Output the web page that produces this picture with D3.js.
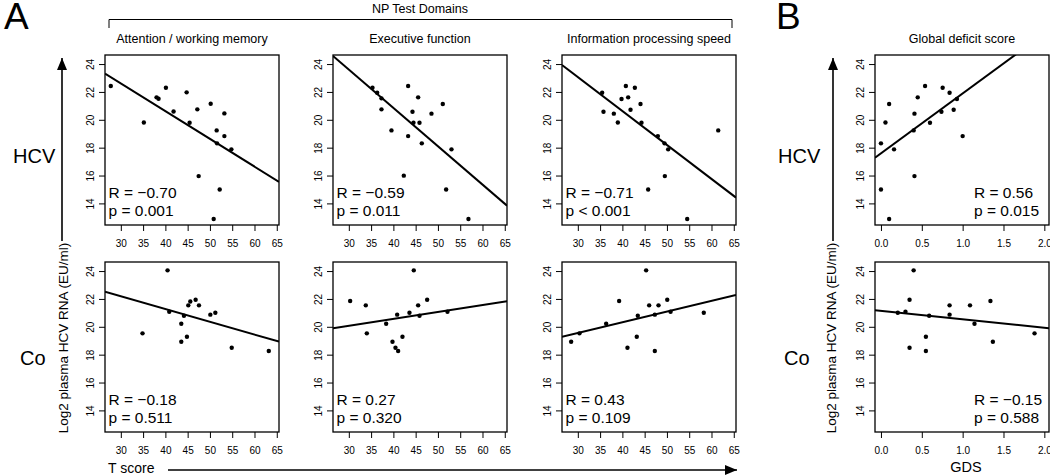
<!DOCTYPE html>
<html><head><meta charset="utf-8">
<script src="https://cdn.jsdelivr.net/npm/d3@7"></script>
<style>body{margin:0;background:#fff} text{font-family:"Liberation Sans",Arial,sans-serif;fill:#000}</style>
</head><body><svg id="chart" width="1050" height="475"></svg>
<script>
const rowNames = ["HCV", "Co"];
const domainTitles = ["Attention / working memory", "Executive function", "Information processing speed", "Global deficit score"];
const groupTitle = "NP Test Domains";
const yLabel = "Log2 plasma HCV RNA (EU/ml)";
const tTicks = [30, 35, 40, 45, 50, 55, 60, 65];
const gdsTicks = [0, 0.5, 1, 1.5, 2];
const yTicks = [14, 16, 18, 20, 22, 24];

// HCV group
const hcvAttnX = [27.75,35.17,38.02,38.47,40.12,41.84,44.77,45.44,47.17,47.47,50.17,50.84,51.51,51.59,52.19,53.24,53.24,54.81];
const hcvAttnY = [22.42,19.81,21.61,21.51,22.30,20.60,21.97,19.79,20.75,15.96,21.15,12.88,19.24,18.31,15.00,20.46,18.83,17.88];
const hcvExecX = [35.31,36.36,37.33,37.33,39.57,42.34,43.31,43.31,44.29,44.51,45.56,45.86,46.38,48.55,51.09,51.84,53.04,56.85];
const hcvExecY = [22.30,21.94,21.54,20.75,19.24,15.99,22.42,18.83,20.58,19.79,21.61,19.79,18.31,20.44,21.13,15.00,17.88,12.88];
const hcvInfoX = [35.46,35.76,38.08,38.98,39.81,40.78,41.30,41.83,42.80,44.07,44.29,45.79,47.96,49.46,49.53,50.28,54.55,61.51];
const hcvInfoY = [21.94,20.58,20.44,19.81,21.49,22.42,21.61,20.72,22.30,21.13,19.79,15.00,18.83,18.31,15.96,17.88,12.88,19.24];
const hcvGdsX = [0.00,0.00,0.055,0.10,0.10,0.16,0.41,0.41,0.40,0.45,0.54,0.60,0.74,0.755,0.84,0.89,0.93,1.00];
const hcvGdsY = [18.31,15.00,19.81,21.13,12.88,17.88,20.44,15.96,19.24,21.61,22.42,19.79,20.58,22.30,21.94,20.72,21.49,18.83];

// Control group
const coAttnX = [34.87,40.49,40.87,43.57,43.57,44.17,44.84,45.14,45.59,46.79,47.54,50.09,51.21,54.89,63.21];
const coAttnY = [19.53,24.05,21.08,20.22,18.93,20.79,19.29,21.54,21.82,21.94,21.54,20.87,21.01,18.50,18.26];
const coExecX = [30.30,33.81,34.04,38.38,39.80,40.47,40.85,41.07,42.04,43.61,44.58,45.56,45.86,47.58,52.14];
const coExecY = [21.85,21.54,19.53,20.22,18.93,18.50,20.87,18.26,19.29,21.01,24.05,21.54,20.79,21.94,21.08];
const coInfoX = [28.50,30.37,36.36,39.27,41.14,43.23,43.46,45.33,46.01,47.28,47.28,48.11,50.07,50.82,58.27];
const coInfoY = [18.93,19.53,20.22,21.85,18.50,19.29,20.79,24.05,21.54,20.87,18.26,21.54,21.94,21.08,21.01];
const coGdsX = [0.206,0.30,0.35,0.35,0.40,0.55,0.55,0.59,0.84,0.84,1.09,1.145,1.34,1.37,1.88];
const coGdsY = [21.01,21.08,21.94,18.50,24.05,19.29,18.26,20.79,21.54,20.87,21.54,20.22,21.85,18.93,19.53];

// regression fits (intercept, slope) per row / column
const fitIntercepts = [[28.58, 31.85, 30.38, 17.59], [24.94, 18.58, 17.25, 21.14]];
const fitSlopes = [[-0.199, -0.275, -0.2437, 4.30], [-0.0917, 0.0496, 0.0769, -0.605]];
const statR = [["\u22120.70", "\u22120.59", "\u22120.71", "0.56"], ["\u22120.18", "0.27", "0.43", "\u22120.15"]];
const statP = [["= 0.001", "= 0.011", "< 0.001", "= 0.015"], ["= 0.511", "= 0.320", "= 0.109", "= 0.588"]];

const xs = [[hcvAttnX, hcvExecX, hcvInfoX, hcvGdsX], [coAttnX, coExecX, coInfoX, coGdsX]];
const ys = [[hcvAttnY, hcvExecY, hcvInfoY, hcvGdsY], [coAttnY, coExecY, coInfoY, coGdsY]];

const svg = d3.select("#chart");
const colX = [105, 333, 562, 875];
const rowY = [55, 262];
const W = 174, H = 170;
const tDomain = [26.45, 65.5];
const gDomain = [-0.073, 2.057];
const yDomain = [12.45, 24.65];

for (let r = 0; r < 2; r++) {
  for (let c = 0; c < 4; c++) {
    const g = svg.append("g").attr("transform", `translate(${colX[c]},${rowY[r]})`);
    const x = d3.scaleLinear().domain(c === 3 ? gDomain : tDomain).range([0, W]);
    const y = d3.scaleLinear().domain(yDomain).range([H, 0]);
    const clipId = `clip${r}${c}`;
    g.append("clipPath").attr("id", clipId).append("rect").attr("width", W).attr("height", H);

    const xa = g.append("g").attr("transform", `translate(0,${H})`)
      .call(d3.axisBottom(x).tickValues(c === 3 ? gdsTicks : tTicks)
        .tickFormat(c === 3 ? d3.format(".1f") : d3.format("d")).tickSize(6).tickPadding(9));
    xa.select(".domain").remove();
    xa.selectAll("line").attr("stroke", "#000").attr("stroke-width", 1);
    xa.selectAll("text").attr("font-size", 10).attr("font-family", "Liberation Sans, Arial, sans-serif").attr("fill", "#000");

    const ya = g.append("g").call(d3.axisLeft(y).tickValues(yTicks).tickSize(6));
    ya.select(".domain").remove();
    ya.selectAll("line").attr("stroke", "#000").attr("stroke-width", 1);
    ya.selectAll("text").attr("font-size", 10).attr("font-family", "Liberation Sans, Arial, sans-serif").attr("fill", "#000")
      .attr("x", null).attr("dy", "0.35em").attr("text-anchor", "middle")
      .attr("transform", "translate(-15,0) rotate(-90)");

    const pts = d3.zip(xs[r][c], ys[r][c]);
    g.append("g").selectAll("circle").data(pts).join("circle")
      .attr("cx", d => x(d[0])).attr("cy", d => y(d[1])).attr("r", 2.2).attr("fill", "#000");

    const a = fitIntercepts[r][c], b = fitSlopes[r][c];
    const xd = x.domain();
    g.append("line").attr("clip-path", `url(#${clipId})`)
      .attr("x1", x(xd[0])).attr("y1", y(a + b * xd[0]))
      .attr("x2", x(xd[1])).attr("y2", y(a + b * xd[1]))
      .attr("stroke", "#000").attr("stroke-width", 2);

    g.append("rect").attr("width", W).attr("height", H).attr("fill", "none")
      .attr("stroke", "#000").attr("stroke-width", 1.3);

    const tx = c === 3 ? 99 : 3.5;
    g.append("text").attr("x", tx).attr("y", H - 27).attr("font-size", 15.5).text("R = " + statR[r][c]);
    g.append("text").attr("x", tx).attr("y", H - 9).attr("font-size", 15.5).text("p " + statP[r][c]);

    if (r === 0) {
      svg.append("text").attr("x", colX[c] + W / 2).attr("y", 43).attr("text-anchor", "middle")
        .attr("font-size", 12.5).text(domainTitles[c]);
    }
  }
}

// panel letters
svg.append("text").attr("x", 4).attr("y", 29).attr("font-size", 37).text("A");
svg.append("text").attr("x", 776).attr("y", 29).attr("font-size", 37).text("B");

// group bracket
svg.append("path").attr("d", "M109,28 V19.5 H732 V28").attr("fill", "none").attr("stroke", "#000").attr("stroke-width", 1);
svg.append("text").attr("x", 420).attr("y", 13).attr("text-anchor", "middle").attr("font-size", 12.5).text(groupTitle);

// row labels
const rowLabelX = [[13, 778], [20, 784]];
const rowLabelY = [163, 365];
for (let r = 0; r < 2; r++) {
  for (let k = 0; k < 2; k++) {
    svg.append("text").attr("x", rowLabelX[r][k]).attr("y", rowLabelY[r]).attr("font-size", 20).text(rowNames[r]);
  }
}

// arrows
svg.append("defs").append("marker").attr("id", "ah").attr("viewBox", "0 0 12 10").attr("refX", 12).attr("refY", 5)
  .attr("markerWidth", 12).attr("markerHeight", 10).attr("markerUnits", "userSpaceOnUse").attr("orient", "auto")
  .append("path").attr("d", "M0,0 L12,5 L0,10 Z").attr("fill", "#000");

[[62, 241], [833, 241]].forEach(([ax, ab]) => {
  svg.append("line").attr("x1", ax).attr("y1", ab).attr("x2", ax).attr("y2", 58)
    .attr("stroke", "#000").attr("stroke-width", 1.6).attr("marker-end", "url(#ah)");
});
[63, 831].forEach(lx => {
  svg.append("text").attr("transform", `translate(${lx},338) rotate(-90)`).attr("text-anchor", "middle")
    .attr("dy", "0.35em").attr("font-size", 13.5).text(yLabel);
});

svg.append("line").attr("x1", 168).attr("y1", 470).attr("x2", 737).attr("y2", 470)
  .attr("stroke", "#000").attr("stroke-width", 1.6).attr("marker-end", "url(#ah)");
svg.append("text").attr("x", 108).attr("y", 473).attr("font-size", 14).text("T score");
svg.append("text").attr("x", colX[3] + W / 2 + 4).attr("y", 472).attr("text-anchor", "middle").attr("font-size", 14.5).text("GDS");
</script>
</body></html>
